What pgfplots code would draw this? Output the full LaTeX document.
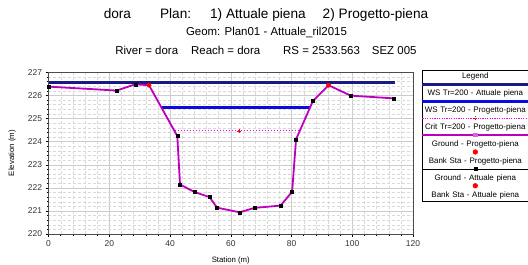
\documentclass[border=0pt]{standalone}
\usepackage{fontspec}
\setmainfont{Liberation Sans}
\usepackage{pgfplots}
\pgfplotsset{compat=1.18}
\definecolor{wsA}{RGB}{25,25,135}
\definecolor{wsP}{RGB}{10,10,225}
\definecolor{gnd}{RGB}{190,0,190}
\definecolor{crit}{RGB}{240,0,240}
\begin{document}
\begin{tikzpicture}
\path[use as bounding box] (0bp,0bp) rectangle (528bp,265bp);
\node[font=\fontsize{13.7}{15}\selectfont] at (266bp,250bp) {dora\hspace{29bp}Plan:\hspace{19bp}1) Attuale piena\hspace{17bp}2) Progetto-piena};
\node[font=\fontsize{11.5}{13}\selectfont] at (266.5bp,232.5bp) {Geom: Plan01 - Attuale\_ril2015};
\node[font=\fontsize{11.5}{13}\selectfont] at (266bp,215bp) {River = dora\hspace{13bp}Reach = dora\hspace{23bp}RS = 2533.563\hspace{12bp}SEZ 005};
\begin{axis}[
  at={(48.5bp,31bp)}, anchor=south west, scale only axis,
  width=364.5bp, height=161.7bp,
  xmin=0, xmax=120, ymin=220, ymax=227,
  xtick={0,20,...,120}, ytick={220,...,227},
  minor x tick num=4, minor y tick num=4,
  xtick pos=bottom, ytick pos=left, tick align=outside,
  major tick length=3bp, minor tick length=2bp,
  every tick/.style={black, line width=0.4bp},
  grid=both,
  major grid style={gray!40, line width=0.4bp},
  minor grid style={gray!30, line width=0.3bp, densely dashed},
  axis line style={black!70, line width=0.6bp},
  /pgf/number format/assume math mode=true,
  /pgf/number format/1000 sep={},
  tick label style={font=\fontsize{8.5}{10}\selectfont, text=black!80},
  xlabel={Station (m)}, ylabel={Elevation (m)},
  label style={font=\fontsize{7.8}{9}\selectfont},
  xlabel style={at={(axis description cs:0.5,-0.165)}, anchor=center},
  ylabel style={at={(axis description cs:-0.1, 0.5)}, anchor=center, rotate=0},
  legend cell align=left,
  legend style={at={(axis description cs:1.0247,1.012)}, anchor=north west,
    draw=black, line width=0.6bp, fill=white, inner xsep=1bp, inner ysep=2.5bp,
    font=\fontsize{8}{9}\selectfont, row sep=9.3bp, column sep=0pt,
    nodes={inner sep=0pt, text width=104bp, align=center, text height=5.8bp, text depth=1.8bp}},
]
\addlegendimage{legend image code/.code={}}
\addlegendentry{Legend}
\addplot[wsA, line width=2.5bp, legend image code/.code={
  \draw[overlay, wsA, line width=2.5bp] (-1bp,9.5bp) -- (105bp,9.5bp);}]
  coordinates {(0,226.55) (114,226.55)};
\addlegendentry{WS Tr=200 - Attuale piena}
\addplot[wsP, line width=2.5bp, legend image code/.code={
  \draw[overlay, wsP, line width=2.5bp] (-1bp,9.5bp) -- (105bp,9.5bp);}]
  coordinates {(37.0,225.48) (86.1,225.48)};
\addlegendentry{WS Tr=200 - Progetto-piena}
\addplot[draw=crit, line width=1bp, dash pattern=on 1.5bp off 1.5bp, mark=none,
  legend image code/.code={
  \draw[overlay, crit, line width=0.8bp, dash pattern=on 1.2bp off 1.2bp] (-1bp,9.5bp) -- (105bp,9.5bp);
  \draw[overlay, red, line width=0.5bp] (52bp,7.5bp) -- (52bp,11.5bp) (50bp,9.5bp) -- (54bp,9.5bp);}]
  coordinates {(41.5,224.46) (82.6,224.46)};
\addlegendentry{Crit Tr=200 - Progetto-piena}
\addplot[gnd, line width=1.8bp, legend image code/.code={
  \draw[overlay, gnd, line width=1.8bp] (-1bp,9.5bp) -- (105bp,9.5bp);
  \fill[overlay, gnd!60] (50.5bp,8bp) rectangle (53.5bp,11bp);}]
  coordinates {(0,226.38) (22.4,226.21) (28.6,226.48) (33.1,226.44) (42.4,224.24)
   (43.3,222.14) (48.2,221.81) (53.0,221.60) (55.5,221.14) (62.9,220.94)
   (67.8,221.13) (76.4,221.23) (80.2,221.83) (81.5,224.10) (87.1,225.77)
   (92.2,226.44) (99.5,225.99) (113.8,225.87)};
\addlegendentry{Ground - Progetto-piena}
\addplot[only marks, mark=*, red, mark size=2bp, legend image code/.code={
  \fill[overlay, red] (52bp,9.5bp) circle (2.3bp);}]
  coordinates {(33.1,226.44) (92.2,226.44)};
\addlegendentry{Bank Sta - Progetto-piena}
\addplot[only marks, mark=square*, black, mark size=1.5bp, legend image code/.code={
  \draw[overlay, black, line width=0.6bp] (-1bp,9.5bp) -- (105bp,9.5bp);
  \fill[overlay, black] (50.5bp,8bp) rectangle (53.5bp,11bp);}]
  coordinates {(0,226.38) (22.4,226.21) (28.6,226.48) (42.4,224.24)
   (43.3,222.14) (48.2,221.81) (53.0,221.60) (55.5,221.14) (62.9,220.94)
   (67.8,221.13) (76.4,221.23) (80.2,221.83) (81.5,224.10) (87.1,225.77)
   (99.5,225.99) (113.8,225.87)};
\addlegendentry{Ground - Attuale piena}
\addplot[only marks, mark=*, red, mark size=2bp, legend image code/.code={
  \fill[overlay, red] (52bp,9.5bp) circle (2.3bp);}]
  coordinates {(33.1,226.44) (92.2,226.44)};
\addlegendentry{Bank Sta - Attuale piena}
\addplot[only marks, mark=+, red, mark size=2bp, line width=0.5bp, forget plot]
  coordinates {(62.7,224.46)};
\end{axis}
\end{tikzpicture}
\end{document}
